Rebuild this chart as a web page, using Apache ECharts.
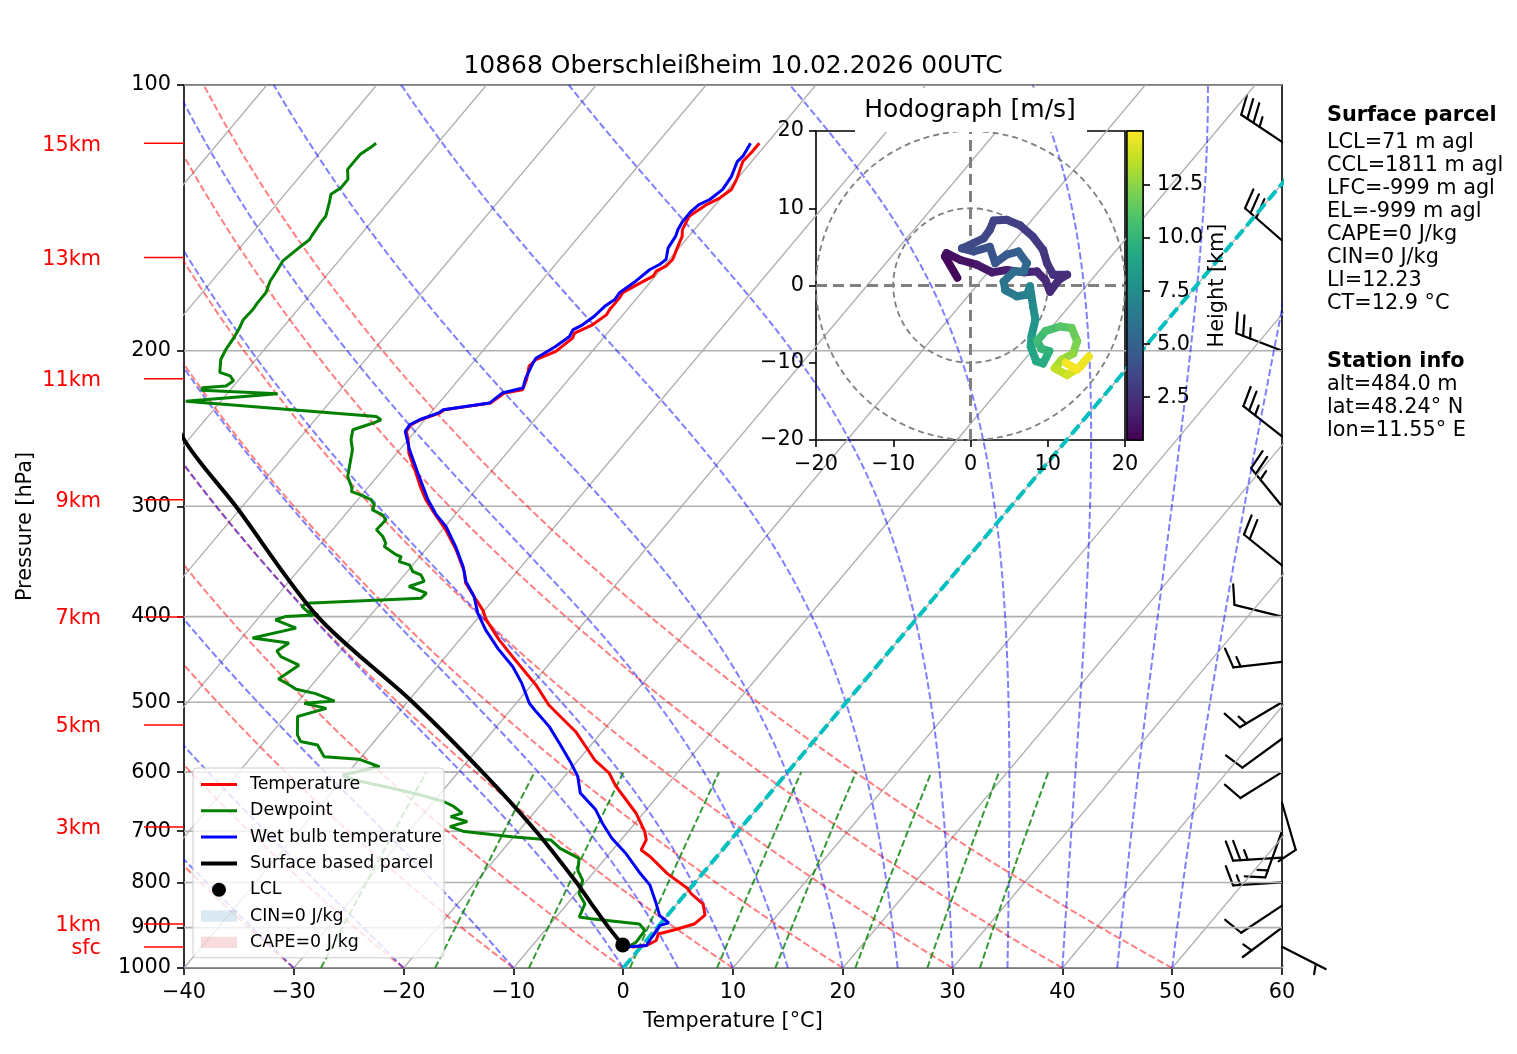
<!DOCTYPE html>
<html>
<head>
<meta charset="utf-8">
<title>Skew-T 10868 Oberschleißheim</title>
<script src="https://cdn.jsdelivr.net/npm/echarts@6.0.0/dist/echarts.min.js"></script>
<style>
  html, body { margin: 0; padding: 0; background: #fff; }
  #main { width: 1517px; height: 1054px; }
</style>
</head>
<body>
<div id="main"></div>
<script>
// sounding: pressure [hPa] / temperature [°C]
const tempP = [946.7, 943, 930.8, 915.3, 905.7, 891.7, 871.1, 846.6, 823.9, 812.9, 781.9, 748.6, 735, 716, 700.2, 676.2, 667.5, 622.1, 601.4, 581.4, 540, 503.6, 478, 444, 425, 403.4, 393, 379.6, 366.5, 355.6, 336.1, 318.9, 305.4, 294.9, 285, 274, 261.2, 252.2, 246.8, 242.6, 239.4, 235.3, 233.2, 229.2, 223.3, 221.4, 215.7, 208.3, 204.6, 200.3, 193.5, 191.0, 186.9, 182.1, 179.6, 174.2, 171.9, 168.3, 164.6, 162.5, 160.4, 157.6, 153.6, 148.4, 145.8, 140.8, 136.6, 134.2, 131.3, 127.9, 122.1, 119.1, 116.4];
const tempT = [-0.8, 0.4, 0.9, 0.6, 1.7, 3.1, 3.4, 2.4, 0.5, -0.2, -3.2, -6.0, -7.4, -7.7, -8.5, -10.1, -10.7, -14.6, -16.2, -18.5, -22.4, -26.9, -29.6, -33.9, -36.4, -39.1, -40.2, -42.0, -43.8, -44.8, -47.2, -49.7, -52.0, -53.8, -55.3, -56.9, -58.9, -60.0, -60.8, -60.9, -60.4, -59.2, -59.0, -55.3, -54.8, -53.4, -53.8, -54.6, -54.5, -53.3, -52.8, -53.0, -52.0, -51.5, -51.6, -51.6, -51.7, -51.0, -50.2, -50.3, -49.8, -49.7, -50.1, -50.6, -51.1, -51.5, -50.8, -50.1, -49.7, -50.0, -50.8, -50.7, -50.7];

const dewP = [946.7, 934.9, 906.9, 891.4, 879.5, 875.6, 845.9, 823.9, 795.6, 775.3, 751.4, 732.1, 716.0, 710.0, 700.7, 691.6, 682.6, 673.8, 667.8, 656.2, 647.8, 636.5, 625.4, 612.0, 604.6, 591.6, 580.3, 576.4, 559.0, 554.1, 544.6, 519.0, 508.1, 501.4, 498.6, 489.0, 483.5, 476.1, 470.7, 454.0, 444.0, 437.5, 428.6, 423.0, 412.2, 403.3, 399.8, 398.1, 394.7, 389.6, 386.2, 381.2, 376.2, 369.8, 364.9, 358.7, 355.6, 349.5, 346.5, 342.0, 340.4, 333.2, 330.5, 324.6, 318.9, 310.7, 306.7, 302.8, 298.8, 294.9, 291.2, 288.7, 286.2, 277.5, 270.4, 258.9, 252.2, 245.7, 241.6, 239.4, 237.3, 228.1, 223.7, 221.6, 220.2, 219.2, 216.3, 213.5, 211.6, 204.6, 199.4, 192.7, 188.6, 184.4, 179.6, 176.4, 171.9, 166.8, 161.8, 158.3, 153.6, 149.7, 147.7, 142.7, 140.8, 136.0, 133.0, 130.7, 127.9, 124.6, 122.6, 119.9, 117.8, 116.4];
const dewT = [-1.2, -0.8, -0.9, -1.9, -6.7, -7.9, -8.4, -9.7, -10.4, -11.6, -12.4, -14.9, -16.4, -20.2, -24.9, -26.6, -25.4, -27.3, -26.5, -27.8, -29.1, -31.8, -34.9, -39.0, -40.3, -37.6, -40.0, -43.4, -44.9, -46.7, -47.5, -48.9, -46.9, -49.3, -46.7, -49.0, -51.1, -52.4, -53.5, -52.7, -55.0, -55.8, -55.3, -59.0, -55.8, -58.3, -57.6, -54.8, -56.0, -56.9, -56.8, -46.7, -46.6, -48.7, -47.7, -48.5, -49.5, -50.3, -51.5, -51.7, -52.3, -54.0, -54.1, -54.9, -56.0, -55.9, -56.6, -57.9, -58.1, -58.8, -60.1, -61.2, -61.4, -62.7, -63.3, -64.3, -65.2, -65.8, -64.5, -64.0, -64.7, -83.2, -75.4, -82.6, -82.7, -80.7, -80.4, -81.1, -82.3, -83.2, -83.5, -83.7, -83.9, -84.2, -84.1, -84.2, -84.2, -84.7, -84.9, -85.1, -84.7, -84.3, -84.4, -84.6, -84.6, -85.3, -85.8, -85.4, -85.4, -86.2, -86.2, -86.2, -85.8, -85.6];

const wetP = [946.7, 943.0, 930.8, 910.5, 894.9, 889.0, 872.1, 845.9, 805.7, 778.4, 740.8, 712.4, 685.1, 662.0, 633.5, 606.7, 586.4, 556.5, 532.9, 510.2, 501.4, 476.1, 455.8, 435.1, 414.0, 396.3, 379.6, 364.9, 351.0, 333.2, 316.3, 306.7, 294.9, 277.5, 258.9, 246.8, 242.6, 239.4, 235.3, 233.2, 229.2, 223.3, 220.4, 214.8, 206.5, 203.9, 197.8, 192.7, 189.4, 186.9, 182.9, 178.1, 175.0, 171.9, 166.8, 161.8, 159.7, 157.6, 152.9, 148.4, 145.8, 142.7, 139.0, 136.6, 134.8, 131.3, 126.9, 122.1, 120.4, 116.4];
const wetT = [-1.4, 0.4, 0.3, 0.2, 0.1, 0.7, -0.7, -1.9, -3.9, -5.9, -8.6, -11.0, -13.0, -14.6, -17.3, -18.8, -20.4, -23.0, -25.2, -27.8, -28.8, -31.0, -33.1, -35.8, -38.4, -40.4, -42.0, -43.9, -45.3, -47.5, -49.9, -51.7, -53.6, -56.2, -59.1, -60.9, -61.0, -60.5, -59.3, -59.1, -55.4, -55.0, -53.5, -54.0, -54.5, -54.6, -53.7, -53.2, -53.4, -52.9, -52.5, -52.3, -51.9, -52.0, -51.4, -51.0, -50.5, -50.3, -51.0, -51.2, -51.5, -51.7, -51.7, -51.5, -50.9, -50.5, -50.7, -51.3, -51.2, -51.5];

const parcelP = [941.8, 900, 845.9, 800, 700, 600, 500, 400, 300, 252.2, 200];
const parcelT = [-1.8, -4.4, -7.8, -10.8, -18.4, -27.8, -39.5, -54.7, -70.6, -80.4, -91.0];
const lclP = 941.8, lclT = -1.8;

// wind barbs [kt]
const barbP = [946, 900, 850, 800, 750, 700, 650, 600, 550, 500, 450, 400, 350, 300, 250, 200, 150, 116];
const barbU = [-4.5, 4.0, 8.3, 15.0, 25.0, 5.1, -2.8, 8.5, 8.1, 12.9, 14.9, 9.7, 15.5, 15.7, 19.7, 23.3, 22.6, 29.1];
const barbV = [2.3, 3.0, 5.5, 0.9, 1.5, 14.1, 9.6, 5.3, 5.9, 7.7, 1.7, -2.4, -12.6, -19.4, -15.4, -9.0, -19.7, -19.4];

// hodograph [m/s] and height [km]
const hodoU = [-1.7, -3.3, -3.1, -1.3, 0.8, 2.8, 4.7, 6.9, 8.6, 9.7, 10.3, 11.4, 12.5, 10.7, 9.9, 9.4, 8.1, 6.4, 4.7, 3.0, 2.5, 1.7, 0.4, -1.1, 0.4, 2.5, 3.2, 4.7, 6.2, 7.3, 6.9, 5.6, 4.3, 4.5, 6.0, 7.3, 7.7, 8.1, 8.4, 7.9, 7.8, 8.5, 9.4, 10.2, 9.2, 8.6, 9.7, 11.6, 13.1, 13.8, 13.3, 11.8, 10.9, 12.5, 14.2, 15.3, 13.8, 12.3];
const hodoV = [1.0, 3.75, 4.2, 3.3, 2.7, 1.7, 2.0, 1.7, 1.8, 0.7, -0.8, 0.7, 1.4, 1.4, 2.9, 4.6, 6.3, 7.8, 8.5, 8.4, 7.2, 6.1, 5.5, 4.8, 4.4, 5.0, 2.9, 4.0, 4.4, 2.9, 1.8, 1.8, 0.5, -0.6, -1.4, -1.2, -0.1, -2.7, -4.4, -6.6, -7.9, -9.8, -10.1, -8.5, -8.2, -7.2, -5.9, -5.3, -5.5, -7.2, -8.8, -9.6, -10.7, -11.6, -10.5, -9.2, -10.9, -10.0];
const hodoH = [0.48, 0.8, 0.9, 1.1, 1.3, 1.5, 1.7, 1.9, 2.0, 2.1, 2.2, 2.3, 2.4, 2.5, 2.6, 2.8, 3.0, 3.1, 3.2, 3.3, 3.4, 3.5, 3.6, 3.7, 3.9, 4.1, 4.3, 4.6, 4.9, 5.2, 5.5, 5.7, 5.9, 6.1, 6.4, 6.7, 6.9, 7.3, 7.8, 8.3, 8.7, 9.1, 9.4, 9.7, 10.0, 10.3, 10.6, 11.0, 11.4, 11.9, 12.4, 12.9, 13.4, 13.9, 14.3, 14.6, 14.8, 15.0];
const hodoRings = [10, 20];
const hMin = 0.48, hMax = 15.05;
const cbTicks = [2.5, 5.0, 7.5, 10.0, 12.5];

// axis ticks / marks
const pressureTicks = [100, 200, 300, 400, 500, 600, 700, 800, 900, 1000];
const heightLabels = ['sfc', '1km', '3km', '5km', '7km', '9km', '11km', '13km', '15km'];
const heightP = [946.7, 891.7, 692.3, 530.6, 400.4, 294.9, 215.1, 156.8, 116.4];

// background lines (start values at 1000 hPa)
const isotherms = [-100, -90, -80, -70, -60, -50, -40, -30, -20, -10, 0, 10, 20, 30, 40, 50, 60];
const dryAdiabats = [-40, -30, -20, -10, 0, 10, 20, 30, 40, 50];
const moistAdiabats = [-40, -30, -20, -10, 0, 5, 10, 15, 20, 25, 30, 35, 40, 45, 50];
const mixingRatios = [0.0004, 0.001, 0.002, 0.004, 0.007, 0.01, 0.016, 0.024, 0.032];

const titleText = '10868 Oberschleißheim 10.02.2026 00UTC';
const parcelInfo = ['LCL=71 m agl', 'CCL=1811 m agl', 'LFC=-999 m agl', 'EL=-999 m agl', 'CAPE=0 J/kg', 'CIN=0 J/kg', 'LI=12.23', 'CT=12.9 °C'];
const stationInfo = ['alt=484.0 m', 'lat=48.24° N', 'lon=11.55° E'];

// ------------------------------------------------------------------
const FONT = 'DejaVu Sans';
const FS = 20.8;      // 10 pt at 150 dpi
const SKEW = 67.55;   // °C of skew over one decade of pressure
const ly = p => Math.log10(p);
const sx = (T, p) => T + SKEW * (3 - Math.log10(p));
const profile = (P, T) => P.map((p, i) => [sx(T[i], p), ly(p)]);
const joinLines = lines => {
  const out = [];
  lines.forEach((l, i) => { if (i) out.push(['-', '-']); l.forEach(pt => out.push(pt)); });
  return out;
};
const minus = v => (v < 0 ? '\u2212' + Math.abs(v) : String(v));

const levels = [];
for (let p = 1000; p >= 100; p -= 10) levels.push(p);

const isobarLines = pressureTicks.map(p => [[-40, ly(p)], [60, ly(p)]]);
const isothermLines = isotherms.map(t => [[sx(t, 1000), ly(1000)], [sx(t, 100), ly(100)]]);
const dryLines = dryAdiabats.map(t0 => levels.map(p => [sx((t0 + 273.15) * Math.pow(p / 1000, 0.2857) - 273.15, p), ly(p)]));

function moistLine(t0) {
  const Rd = 287.04749, Cp = 1004.6662, Lv = 2.50084e6, eps = 0.622;
  const f = (p, T) => {
    const es = 6.112 * Math.exp(17.67 * (T - 273.15) / (T - 29.65));
    const rs = eps * es / (p - es);
    return (Rd * T + Lv * rs) / (Cp + Lv * Lv * rs * eps / (Rd * T * T)) / p;
  };
  const h = -5;
  let p = 1000, T = t0 + 273.15;
  const pts = [[sx(t0, p), ly(p)]];
  while (p > 100.001) {
    const k1 = f(p, T), k2 = f(p + h / 2, T + h * k1 / 2), k3 = f(p + h / 2, T + h * k2 / 2), k4 = f(p + h, T + h * k3);
    T += h * (k1 + 2 * k2 + 2 * k3 + k4) / 6;
    p += h;
    pts.push([sx(T - 273.15, p), ly(p)]);
  }
  return pts;
}
const moistLines = moistAdiabats.map(moistLine);

const mixLines = mixingRatios.map(w => {
  const pts = [];
  for (let p = 1000; p >= 600; p -= 10) {
    const e = p * w / (0.622 + w);
    const l = Math.log(e / 6.112);
    pts.push([sx(243.5 * l / (17.67 - l), p), ly(p)]);
  }
  return pts;
});

// viridis
const VIRIDIS = ['#440154', '#482475', '#414487', '#355f8d', '#2a788e', '#21918c', '#22a884', '#44bf70', '#7ad151', '#bddf26', '#fde725'];
const hexRgb = h => [parseInt(h.slice(1, 3), 16), parseInt(h.slice(3, 5), 16), parseInt(h.slice(5, 7), 16)];
function viridis(t) {
  t = Math.max(0, Math.min(1, t));
  const s = t * 10, i = Math.min(9, Math.floor(s)), f = s - i;
  const a = hexRgb(VIRIDIS[i]), b = hexRgb(VIRIDIS[i + 1]);
  return 'rgb(' + a.map((c, k) => Math.round(c + (b[k] - c) * f)).join(',') + ')';
}

// wind barb (matplotlib geometry)
function barbGroup(bx, by, u, v) {
  const L = 49, fh = 0.4 * L, fw = 0.25 * L, sp = 0.15 * L;
  let s = Math.round(Math.hypot(u, v) / 5) * 5;
  const nFlag = Math.floor(s / 50); s -= nFlag * 50;
  const nFull = Math.floor(s / 10); s -= nFull * 10;
  const half = s >= 5;
  const phi = Math.atan2(v, u) + Math.PI / 2;
  const c = Math.cos(phi), sn = Math.sin(phi);
  const P = (a, b) => [bx + a * c - b * sn, by - (a * sn + b * c)];
  const st = {stroke: '#000', lineWidth: 2.2, fill: 'none', lineCap: 'round', lineJoin: 'round'};
  const kids = [{type: 'polyline', shape: {points: [P(0, 0), P(0, L)]}, style: st}];
  let off = L;
  for (let i = 0; i < nFlag; i++) {
    if (off !== L) off += sp / 2;
    kids.push({type: 'polygon', shape: {points: [P(0, off), P(fh, off - fw / 2), P(0, off - fw)]}, style: {fill: '#000', stroke: '#000', lineWidth: 1}});
    off -= fw + sp;
  }
  for (let i = 0; i < nFull; i++) {
    kids.push({type: 'polyline', shape: {points: [P(0, off), P(fh, off + fw / 2)]}, style: st});
    off -= sp;
  }
  if (half) {
    if (off === L) off -= 1.5 * sp;
    kids.push({type: 'polyline', shape: {points: [P(0, off), P(fh / 2, off + fw / 4)]}, style: st});
  }
  return {type: 'group', children: kids};
}

const hodoSegs = [];
for (let i = 0; i < hodoU.length - 1; i++) {
  hodoSegs.push([hodoU[i], hodoV[i], hodoU[i + 1], hodoV[i + 1], (hodoH[i] + hodoH[i + 1]) / 2]);
}

const thinDash = [7, 3];
const axisTxt = () => ({color: '#000', fontSize: FS, fontFamily: FONT});
const tickStyle = () => ({show: true, inside: false, length: 7, lineStyle: {color: '#000', width: 1.6}});
const noLine = () => ({show: false, onZero: false});
const xLab = extra => Object.assign({margin: 12, padding: [2, 0, 0, 0]}, axisTxt(), extra);
const yLab = extra => Object.assign({margin: 13, padding: [5, 0, 0, 0]}, axisTxt(), extra);

// text blocks
const infoX = 1327;
const txtFont = FS + 'px "DejaVu Sans"';
const graphics = [
  {type: 'text', x: 733, y: 66, z: 10, style: {text: titleText, font: '25px "DejaVu Sans"', fill: '#000', align: 'center', verticalAlign: 'middle'}},
  {type: 'rect', z: 5, shape: {x: 855, y: 88, width: 232, height: 44}, style: {fill: '#fff'}},
  {type: 'text', x: 970, y: 110, z: 10, style: {text: 'Hodograph [m/s]', font: '25px "DejaVu Sans"', fill: '#000', align: 'center', verticalAlign: 'middle'}},
  {type: 'text', x: infoX, y: 116, z: 10, style: {text: 'Surface parcel', font: 'bold ' + txtFont, fill: '#000', verticalAlign: 'middle'}},
  {type: 'text', x: infoX, y: 362, z: 10, style: {text: 'Station info', font: 'bold ' + txtFont, fill: '#000', verticalAlign: 'middle'}}
];
parcelInfo.forEach((t, i) => graphics.push({type: 'text', x: infoX, y: 143 + i * 22.9, z: 10, style: {text: t, font: txtFont, fill: '#000', verticalAlign: 'middle'}}));
stationInfo.forEach((t, i) => graphics.push({type: 'text', x: infoX, y: 385 + i * 22.9, z: 10, style: {text: t, font: txtFont, fill: '#000', verticalAlign: 'middle'}}));

const lineIcon = w => 'path://M0,0H36V' + w + 'H0Z';
const patchIcon = 'path://M0,0H35V11H0Z';

const chart = echarts.init(document.getElementById('main'), null, {renderer: 'canvas'});

const option = {
  animation: false,
  backgroundColor: '#fff',
  textStyle: {fontFamily: FONT},
  grid: [
    {left: 184, top: 85, width: 1098, height: 883, show: true, borderColor: '#000', borderWidth: 1.6, backgroundColor: 'transparent', outerBoundsMode: 'none', containLabel: false},
    {left: 816, top: 131, width: 309, height: 309, show: true, borderColor: '#000', borderWidth: 1.6, backgroundColor: '#fff', z: 3, outerBoundsMode: 'none', containLabel: false},
    {left: 1127, top: 131, width: 16, height: 309, show: true, borderColor: '#000', borderWidth: 1.4, backgroundColor: '#fff', z: 3, outerBoundsMode: 'none', containLabel: false}
  ],
  xAxis: [
    {gridIndex: 0, type: 'value', min: -40, max: 60, interval: 10,
     axisLine: noLine(), axisTick: tickStyle(), splitLine: {show: false},
     axisLabel: xLab({formatter: minus}),
     name: 'Temperature [°C]', nameLocation: 'middle', nameGap: 43, nameTextStyle: axisTxt()},
    {gridIndex: 1, type: 'value', min: -20, max: 20, interval: 10, z: 4,
     axisLine: noLine(), axisTick: tickStyle(), splitLine: {show: false},
     axisLabel: xLab({formatter: minus})},
    {gridIndex: 2, type: 'value', min: 0, max: 1, show: false, axisLine: noLine()}
  ],
  yAxis: [
    {gridIndex: 0, type: 'value', min: 2, max: 3, inverse: true,
     axisLine: noLine(), splitLine: {show: false},
     axisTick: Object.assign({customValues: pressureTicks.map(ly)}, tickStyle()),
     axisLabel: yLab({customValues: pressureTicks.map(ly), formatter: v => String(Math.round(Math.pow(10, v)))}),
     name: 'Pressure [hPa]', nameLocation: 'middle', nameGap: 148, nameRotate: 90, nameTextStyle: axisTxt()},
    {gridIndex: 1, type: 'value', min: -20, max: 20, interval: 10, z: 4,
     axisLine: noLine(), axisTick: tickStyle(), splitLine: {show: false},
     axisLabel: yLab({margin: 12, formatter: minus})},
    {gridIndex: 2, type: 'value', min: hMin, max: hMax, position: 'right', z: 4,
     axisLine: noLine(), splitLine: {show: false},
     axisTick: Object.assign({customValues: cbTicks}, tickStyle()),
     axisLabel: yLab({customValues: cbTicks, margin: 14, formatter: v => v.toFixed(1)}),
     name: 'Height [km]', nameLocation: 'middle', nameGap: 53, nameRotate: 90, nameTextStyle: axisTxt()}
  ],
  legend: {
    orient: 'vertical', left: 193, top: 768,
    itemWidth: 36, itemHeight: 14, itemGap: 9.3,
    padding: [8, 2, 7, 8],
    backgroundColor: 'rgba(255,255,255,0.8)', borderColor: '#cccccc', borderWidth: 1, borderRadius: 4,
    selectedMode: false,
    textStyle: {fontSize: 17.4, color: '#000', fontFamily: FONT, padding: [2, 0, 0, 8]},
    data: [
      {name: 'Temperature', icon: lineIcon(3), itemStyle: {color: '#ff0000', borderWidth: 0}},
      {name: 'Dewpoint', icon: lineIcon(3), itemStyle: {color: '#008000', borderWidth: 0}},
      {name: 'Wet bulb temperature', icon: lineIcon(3), itemStyle: {color: '#0000ff', borderWidth: 0}},
      {name: 'Surface based parcel', icon: lineIcon(4), itemStyle: {color: '#000000', borderWidth: 0}},
      {name: 'LCL', icon: 'circle', itemStyle: {color: '#000000', borderWidth: 0, opacity: 1}},
      {name: 'CIN=0 J/kg', icon: patchIcon, itemStyle: {color: 'rgba(31,119,180,0.2)', borderWidth: 0}},
      {name: 'CAPE=0 J/kg', icon: patchIcon, itemStyle: {color: 'rgba(214,39,40,0.2)', borderWidth: 0}}
    ]
  },
  graphic: graphics,
  series: [
    {type: 'line', name: 'isobars', data: joinLines(isobarLines), symbol: 'none', silent: true, clip: true,
     lineStyle: {color: '#b0b0b0', width: 1.6}},
    {type: 'line', name: 'isotherms', data: joinLines(isothermLines), symbol: 'none', silent: true, clip: true,
     lineStyle: {color: '#b0b0b0', width: 1.3}},
    {type: 'line', name: 'dry adiabats', data: joinLines(dryLines), symbol: 'none', silent: true, clip: true,
     lineStyle: {color: 'rgba(255,0,0,0.5)', width: 2, type: thinDash}},
    {type: 'line', name: 'moist adiabats', data: joinLines(moistLines), symbol: 'none', silent: true, clip: true,
     lineStyle: {color: 'rgba(0,0,255,0.5)', width: 2, type: thinDash}},
    {type: 'line', name: 'mixing ratio', data: joinLines(mixLines), symbol: 'none', silent: true, clip: true,
     lineStyle: {color: 'rgba(0,128,0,0.8)', width: 2, type: thinDash}},
    {type: 'line', name: '0 °C', data: [[sx(0, 1000), ly(1000)], [sx(0, 100), ly(100)]], symbol: 'none', silent: true, clip: true,
     lineStyle: {color: '#00bfbf', width: 4, type: [12, 5]}},
    {type: 'line', name: 'Temperature', data: profile(tempP, tempT), symbol: 'none', clip: true,
     color: '#ff0000', lineStyle: {color: '#ff0000', width: 3}},
    {type: 'line', name: 'Dewpoint', data: profile(dewP, dewT), symbol: 'none', clip: true,
     color: '#008000', lineStyle: {color: '#008000', width: 3}},
    {type: 'line', name: 'Wet bulb temperature', data: profile(wetP, wetT), symbol: 'none', clip: true,
     color: '#0000ff', lineStyle: {color: '#0000ff', width: 3}},
    {type: 'line', name: 'Surface based parcel', data: profile(parcelP, parcelT), symbol: 'none', smooth: 0.3, clip: true,
     color: '#000', lineStyle: {color: '#000', width: 4}},
    {type: 'scatter', name: 'LCL', data: [[sx(lclT, lclP), ly(lclP)]], symbol: 'circle', symbolSize: 15,
     itemStyle: {color: '#000', opacity: 1}, z: 3},
    {type: 'scatter', name: 'CIN=0 J/kg', data: [], itemStyle: {color: 'rgba(31,119,180,0.2)'}},
    {type: 'scatter', name: 'CAPE=0 J/kg', data: [], itemStyle: {color: 'rgba(214,39,40,0.2)'}},
    // height marks left of the pressure axis
    {type: 'custom', name: 'heights', coordinateSystem: 'cartesian2d', xAxisIndex: 0, yAxisIndex: 0, clip: false, silent: true, z: 3,
     data: heightP.map(p => [-40, ly(p)]),
     renderItem: (params, api) => {
       const pt = api.coord([api.value(0), api.value(1)]);
       return {type: 'group', children: [
         {type: 'line', shape: {x1: pt[0] - 40, y1: pt[1], x2: pt[0], y2: pt[1]}, style: {stroke: '#ff0000', lineWidth: 1.5}},
         {type: 'text', x: pt[0] - 83, y: pt[1] + 2, style: {text: heightLabels[params.dataIndex], fill: '#ff0000', font: txtFont, align: 'right', verticalAlign: 'middle'}}
       ]};
     }},
    // wind barbs on the right axis
    {type: 'custom', name: 'barbs', coordinateSystem: 'cartesian2d', xAxisIndex: 0, yAxisIndex: 0, clip: false, silent: true, z: 3,
     data: barbP.map((p, i) => [60, ly(p), barbU[i], barbV[i]]),
     renderItem: (params, api) => {
       const pt = api.coord([api.value(0), api.value(1)]);
       return barbGroup(pt[0], pt[1], api.value(2), api.value(3));
     }},
    // hodograph
    {type: 'custom', name: 'rings', coordinateSystem: 'cartesian2d', xAxisIndex: 1, yAxisIndex: 1, silent: true, z: 4,
     data: hodoRings.map(r => [0, 0, r]),
     renderItem: (params, api) => {
       const c = api.coord([api.value(0), api.value(1)]);
       const r = api.size([api.value(2), 0])[0];
       return {type: 'circle', shape: {cx: c[0], cy: c[1], r: r}, style: {stroke: '#808080', lineWidth: 1.8, lineDash: [6, 4], fill: 'none'}};
     }},
    {type: 'line', name: 'hodo axes', xAxisIndex: 1, yAxisIndex: 1, symbol: 'none', silent: true, z: 4,
     data: [[-20, 0], [20, 0], ['-', '-'], [0, -20], [0, 20]],
     lineStyle: {color: '#808080', width: 3, type: [11, 6]}},
    {type: 'custom', name: 'hodograph', coordinateSystem: 'cartesian2d', xAxisIndex: 1, yAxisIndex: 1, silent: true, z: 5,
     data: hodoSegs,
     renderItem: (params, api) => {
       const a = api.coord([api.value(0), api.value(1)]);
       const b = api.coord([api.value(2), api.value(3)]);
       return {type: 'line', shape: {x1: a[0], y1: a[1], x2: b[0], y2: b[1]},
               style: {stroke: viridis((api.value(4) - hMin) / (hMax - hMin)), lineWidth: 8, lineCap: 'round'}};
     }},
    // colour bar
    {type: 'custom', name: 'colorbar', coordinateSystem: 'cartesian2d', xAxisIndex: 2, yAxisIndex: 2, silent: true, z: 4,
     data: [[0, hMin, 1, hMax]],
     renderItem: (params, api) => {
       const a = api.coord([api.value(0), api.value(1)]);
       const b = api.coord([api.value(2), api.value(3)]);
       return {type: 'rect', shape: {x: a[0], y: b[1], width: b[0] - a[0], height: a[1] - b[1]},
               style: {stroke: '#000', lineWidth: 1.4,
                       fill: {type: 'linear', x: 0, y: 1, x2: 0, y2: 0, colorStops: VIRIDIS.map((c, i) => ({offset: i / 10, color: c}))}}};
     }}
  ]
};

chart.setOption(option);
</script>
</body>
</html>
